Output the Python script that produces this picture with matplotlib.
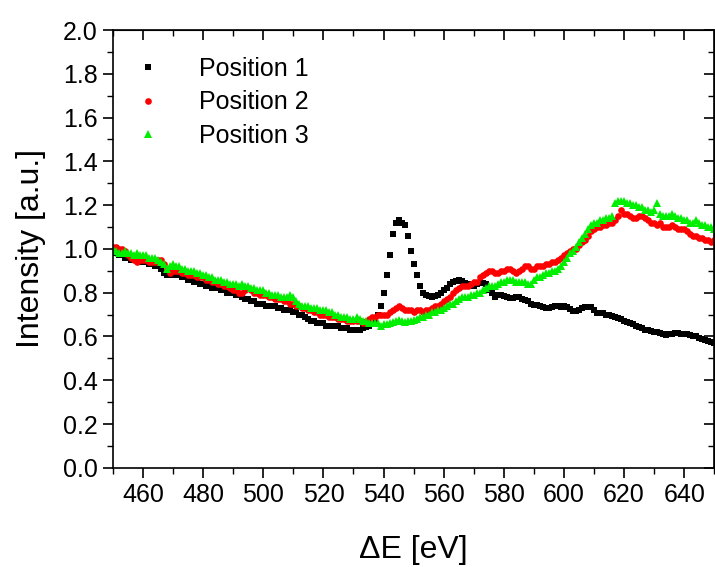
import matplotlib
matplotlib.use("Agg")
import matplotlib.pyplot as plt
from matplotlib.ticker import MultipleLocator, FormatStrFormatter

plt.rcParams['font.family'] = ['Liberation Sans', 'DejaVu Sans']

# energy loss axis, 1 eV steps
energia = list(range(450, 651))

# Position 1 (black squares)
pos1 = [
    0.99, 0.98, 0.97, 0.97, 0.96, 0.96, 0.95, 0.95, 0.95, 0.94,
    0.95, 0.94, 0.93, 0.93, 0.92, 0.92, 0.91, 0.89, 0.88, 0.88,
    0.89, 0.88, 0.88, 0.87, 0.87, 0.86, 0.86, 0.85, 0.85, 0.84,
    0.84, 0.83, 0.83, 0.82, 0.82, 0.82, 0.81, 0.81, 0.80, 0.80,
    0.80, 0.79, 0.79, 0.78, 0.77, 0.77, 0.76, 0.76, 0.75, 0.75,
    0.75, 0.74, 0.74, 0.74, 0.74, 0.73, 0.73, 0.72, 0.72, 0.72,
    0.71, 0.71, 0.70, 0.70, 0.69, 0.68, 0.67, 0.67, 0.66, 0.66,
    0.66, 0.65, 0.65, 0.65, 0.65, 0.65, 0.64, 0.64, 0.64, 0.63,
    0.63, 0.63, 0.63, 0.64, 0.645, 0.65, 0.66, 0.675, 0.70, 0.74,
    0.80, 0.88, 0.97, 1.07, 1.12, 1.13, 1.12, 1.11, 1.06, 0.99,
    0.93, 0.88, 0.83, 0.80, 0.79, 0.785, 0.78, 0.785, 0.79, 0.80,
    0.81, 0.82, 0.84, 0.85, 0.855, 0.86, 0.855, 0.845, 0.84, 0.83,
    0.83, 0.84, 0.845, 0.845, 0.84, 0.81, 0.80, 0.78, 0.79, 0.79,
    0.785, 0.78, 0.775, 0.775, 0.78, 0.78, 0.77, 0.765, 0.76, 0.75,
    0.745, 0.745, 0.74, 0.735, 0.73, 0.73, 0.735, 0.74, 0.74, 0.735,
    0.74, 0.735, 0.725, 0.715, 0.715, 0.72, 0.73, 0.735, 0.735, 0.735,
    0.72, 0.705, 0.705, 0.705, 0.70, 0.70, 0.695, 0.69, 0.685, 0.68,
    0.67, 0.665, 0.66, 0.655, 0.65, 0.645, 0.64, 0.63, 0.63, 0.625,
    0.62, 0.62, 0.615, 0.61, 0.605, 0.61, 0.61, 0.615, 0.615, 0.61,
    0.61, 0.61, 0.605, 0.60, 0.60, 0.595, 0.59, 0.585, 0.58, 0.575,
    0.57,
]

# Position 2 (red circles)
pos2 = [
    1.01, 1.01, 1.00, 1.00, 0.99, 0.97, 0.96, 0.95, 0.94, 0.95,
    0.95, 0.95, 0.94, 0.94, 0.94, 0.95, 0.95, 0.93, 0.91, 0.89,
    0.90, 0.90, 0.90, 0.89, 0.89, 0.88, 0.88, 0.88, 0.87, 0.87,
    0.87, 0.86, 0.86, 0.85, 0.85, 0.84, 0.84, 0.83, 0.83, 0.82,
    0.81, 0.81, 0.80, 0.80, 0.81, 0.82, 0.81, 0.80, 0.80, 0.79,
    0.79, 0.79, 0.78, 0.78, 0.77, 0.77, 0.77, 0.76, 0.76, 0.75,
    0.75, 0.74, 0.74, 0.73, 0.73, 0.72, 0.72, 0.71, 0.71, 0.70,
    0.70, 0.70, 0.69, 0.69, 0.69, 0.68, 0.68, 0.68, 0.67, 0.67,
    0.67, 0.67, 0.67, 0.66, 0.67, 0.68, 0.69, 0.69, 0.70, 0.70,
    0.70, 0.70, 0.71, 0.72, 0.73, 0.74, 0.73, 0.72, 0.72, 0.72,
    0.71, 0.72, 0.72, 0.71, 0.72, 0.72, 0.73, 0.74, 0.74, 0.75,
    0.76, 0.77, 0.78, 0.80, 0.81, 0.82, 0.83, 0.83, 0.83, 0.84,
    0.85, 0.85, 0.87, 0.88, 0.89, 0.90, 0.90, 0.89, 0.89, 0.90,
    0.90, 0.91, 0.91, 0.90, 0.89, 0.90, 0.91, 0.92, 0.92, 0.91,
    0.91, 0.92, 0.92, 0.92, 0.93, 0.93, 0.94, 0.94, 0.95, 0.96,
    0.97, 0.98, 0.99, 1.00, 1.00, 1.02, 1.03, 1.04, 1.06, 1.08,
    1.09, 1.10, 1.10, 1.11, 1.11, 1.12, 1.12, 1.13, 1.15, 1.18,
    1.16, 1.16, 1.15, 1.14, 1.14, 1.15, 1.15, 1.14, 1.13, 1.12,
    1.12, 1.11, 1.12, 1.10, 1.10, 1.10, 1.11, 1.10, 1.09, 1.09,
    1.09, 1.08, 1.07, 1.06, 1.06, 1.05, 1.05, 1.04, 1.04, 1.03,
    1.04,
]

# Position 3 (green triangles)
pos3 = [
    1.00, 0.99, 0.98, 0.98, 0.99, 0.98, 0.98, 0.97, 0.98, 0.97,
    0.97, 0.97, 0.96, 0.96, 0.96, 0.95, 0.94, 0.93, 0.91, 0.92,
    0.93, 0.92, 0.92, 0.91, 0.91, 0.90, 0.90, 0.90, 0.89, 0.89,
    0.88, 0.88, 0.87, 0.87, 0.86, 0.86, 0.86, 0.85, 0.85, 0.84,
    0.84, 0.84, 0.83, 0.84, 0.83, 0.83, 0.82, 0.82, 0.81, 0.81,
    0.81, 0.80, 0.80, 0.79, 0.79, 0.79, 0.78, 0.78, 0.78, 0.79,
    0.78, 0.76, 0.75, 0.74, 0.74, 0.74, 0.73, 0.73, 0.73, 0.72,
    0.72, 0.72, 0.71, 0.71, 0.70, 0.70, 0.69, 0.69, 0.69, 0.68,
    0.68, 0.69, 0.68, 0.67, 0.67, 0.66, 0.66, 0.66, 0.66, 0.65,
    0.655, 0.655, 0.66, 0.665, 0.67, 0.675, 0.67, 0.665, 0.67, 0.67,
    0.675, 0.68, 0.69, 0.69, 0.70, 0.70, 0.71, 0.71, 0.72, 0.72,
    0.73, 0.74, 0.75, 0.75, 0.76, 0.77, 0.78, 0.78, 0.78, 0.79,
    0.79, 0.80, 0.80, 0.81, 0.82, 0.83, 0.83, 0.83, 0.84, 0.85,
    0.85, 0.86, 0.86, 0.86, 0.85, 0.85, 0.85, 0.85, 0.84, 0.84,
    0.86, 0.87, 0.87, 0.88, 0.89, 0.89, 0.90, 0.90, 0.91, 0.92,
    0.94, 0.96, 0.98, 0.99, 1.01, 1.03, 1.05, 1.07, 1.09, 1.11,
    1.12, 1.12, 1.13, 1.13, 1.14, 1.14, 1.15, 1.21, 1.22, 1.22,
    1.22, 1.21, 1.21, 1.20, 1.20, 1.19, 1.19, 1.18, 1.18, 1.17,
    1.18, 1.21, 1.16, 1.15, 1.15, 1.15, 1.16, 1.15, 1.14, 1.14,
    1.13, 1.13, 1.12, 1.12, 1.13, 1.12, 1.11, 1.11, 1.10, 1.10,
    1.09,
]

etiquetas = ['Position 1', 'Position 2', 'Position 3']

fig = plt.figure(figsize=(7.15, 5.67), dpi=100)
ax = fig.add_axes([0.158, 0.175, 0.841, 0.772])

ax.plot(energia, pos1, 's', color='black', markersize=4.2, markeredgewidth=0, label=etiquetas[0])
ax.plot(energia, pos2, 'o', color='#ff0000', markersize=4.8, markeredgewidth=0, label=etiquetas[1])
ax.plot(energia, pos3, '^', color='#00ee00', markersize=5.2, markeredgewidth=0, label=etiquetas[2])

ax.set_xlim(450, 650)
ax.set_ylim(0, 2.0)
ax.xaxis.set_minor_locator(MultipleLocator(10))
ax.yaxis.set_major_locator(MultipleLocator(0.2))
ax.yaxis.set_minor_locator(MultipleLocator(0.1))
ax.set_xticks(range(460, 641, 20))
ax.yaxis.set_major_formatter(FormatStrFormatter('%.1f'))

ax.tick_params(which='major', direction='out', length=7, width=1.2, labelsize=18, pad=4)
ax.tick_params(which='minor', direction='out', length=4, width=1.0)

# ticks hacia dentro en los lados derecho y superior
sec_y = ax.secondary_yaxis('right')
sec_y.yaxis.set_major_locator(MultipleLocator(0.2))
sec_y.yaxis.set_minor_locator(MultipleLocator(0.1))
sec_y.tick_params(which='major', direction='in', length=7, width=1.2, labelright=False)
sec_y.tick_params(which='minor', direction='in', length=4, width=1.0)
sec_x = ax.secondary_xaxis('top')
sec_x.xaxis.set_major_locator(MultipleLocator(20))
sec_x.xaxis.set_minor_locator(MultipleLocator(10))
sec_x.tick_params(which='major', direction='in', length=7, width=1.2, labeltop=False)
sec_x.tick_params(which='minor', direction='in', length=4, width=1.0)

for s in ax.spines.values():
    s.set_linewidth(1.2)

ax.set_xlabel('\u0394E [eV]', fontsize=23, labelpad=20)
ax.set_ylabel('Intensity [a.u.]', fontsize=23, labelpad=12)

ax.legend(loc='upper left', bbox_to_anchor=(0.0, 0.99), frameon=False, fontsize=18,
          handletextpad=1.56, labelspacing=0.38, markerscale=1.0, handlelength=1.0)

fig.savefig('out.png', dpi=100)
